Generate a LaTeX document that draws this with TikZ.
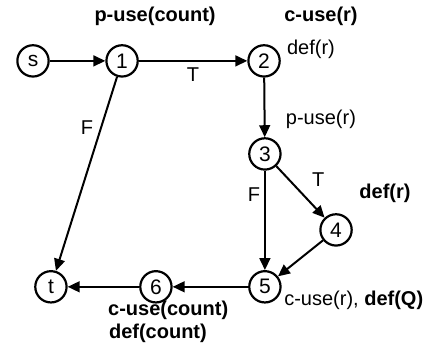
\documentclass[tikz,border=0pt]{standalone}
\usepackage{fontspec}
\setmainfont{Liberation Sans}
\usetikzlibrary{arrows.meta}

\begin{document}
\begin{tikzpicture}[
        vertex/.style={circle, draw=black, line width=2.2pt, fill=white, inner sep=0pt,
                       minimum size=1.10cm, font=\fontsize{21}{24}\selectfont},
        lbl/.style={font=\fontsize{20}{23}\selectfont, inner sep=1pt},
        blbl/.style={lbl, font=\fontsize{20}{23}\selectfont\bfseries},
        arrow/.style={-{Triangle[length=4.2mm, width=3.8mm]}, draw=black, line width=2pt}
      ]
        \useasboundingbox (0,0) rectangle (15.71,12.58);

        \node[vertex] (s) at (1.16,10.44) {s};
        \node[vertex] (n1) at (4.29,10.44) {1};
        \node[vertex] (n2) at (9.28,10.44) {2};
        \node[vertex] (n3) at (9.31,7.17) {3};
        \node[vertex] (n4) at (11.81,4.50) {4};
        \node[vertex] (n5) at (9.31,2.50) {5};
        \node[vertex] (n6) at (5.48,2.50) {6};
        \node[vertex] (t)  at (1.79,2.50) {t};

        \draw[arrow] (s) -- (n1);
        \draw[arrow] (n1) -- (n2);
        \draw[arrow] (n1) -- (t);
        \draw[arrow] (n2) -- (n3);
        \draw[arrow] (n3) -- (n4);
        \draw[arrow] (n3) -- (n5);
        \draw[arrow] (n4) -- (n5);
        \draw[arrow] (n5) -- (n6);
        \draw[arrow] (n6) -- (t);

        \node[blbl] (u1) at (5.45,11.99) {p-use(count)};
        \node[blbl] (u2) at (11.28,11.99) {c-use(r)};
        \node[lbl]  (d2) at (10.93,10.83) {def(r)};
        \node[lbl]  (t12) at (6.78,9.95) {T};
        \node[lbl]  (f1t) at (3.06,8.08) {F};
        \node[lbl]  (u3) at (11.28,8.37) {p-use(r)};
        \node[lbl]  (t34) at (11.18,6.26) {T};
        \node[blbl] (d4) at (13.53,5.80) {def(r)};
        \node[lbl]  (f35) at (8.93,5.73) {F};
        \node[lbl, anchor=west] (u5) at (9.95,2.04) {c-use(r), \textbf{def(Q)}};
        \node[blbl] (u6) at (5.91,1.69) {c-use(count)};
        \node[blbl] (d6) at (5.55,0.88) {def(count)};
      \end{tikzpicture}
\end{document}
